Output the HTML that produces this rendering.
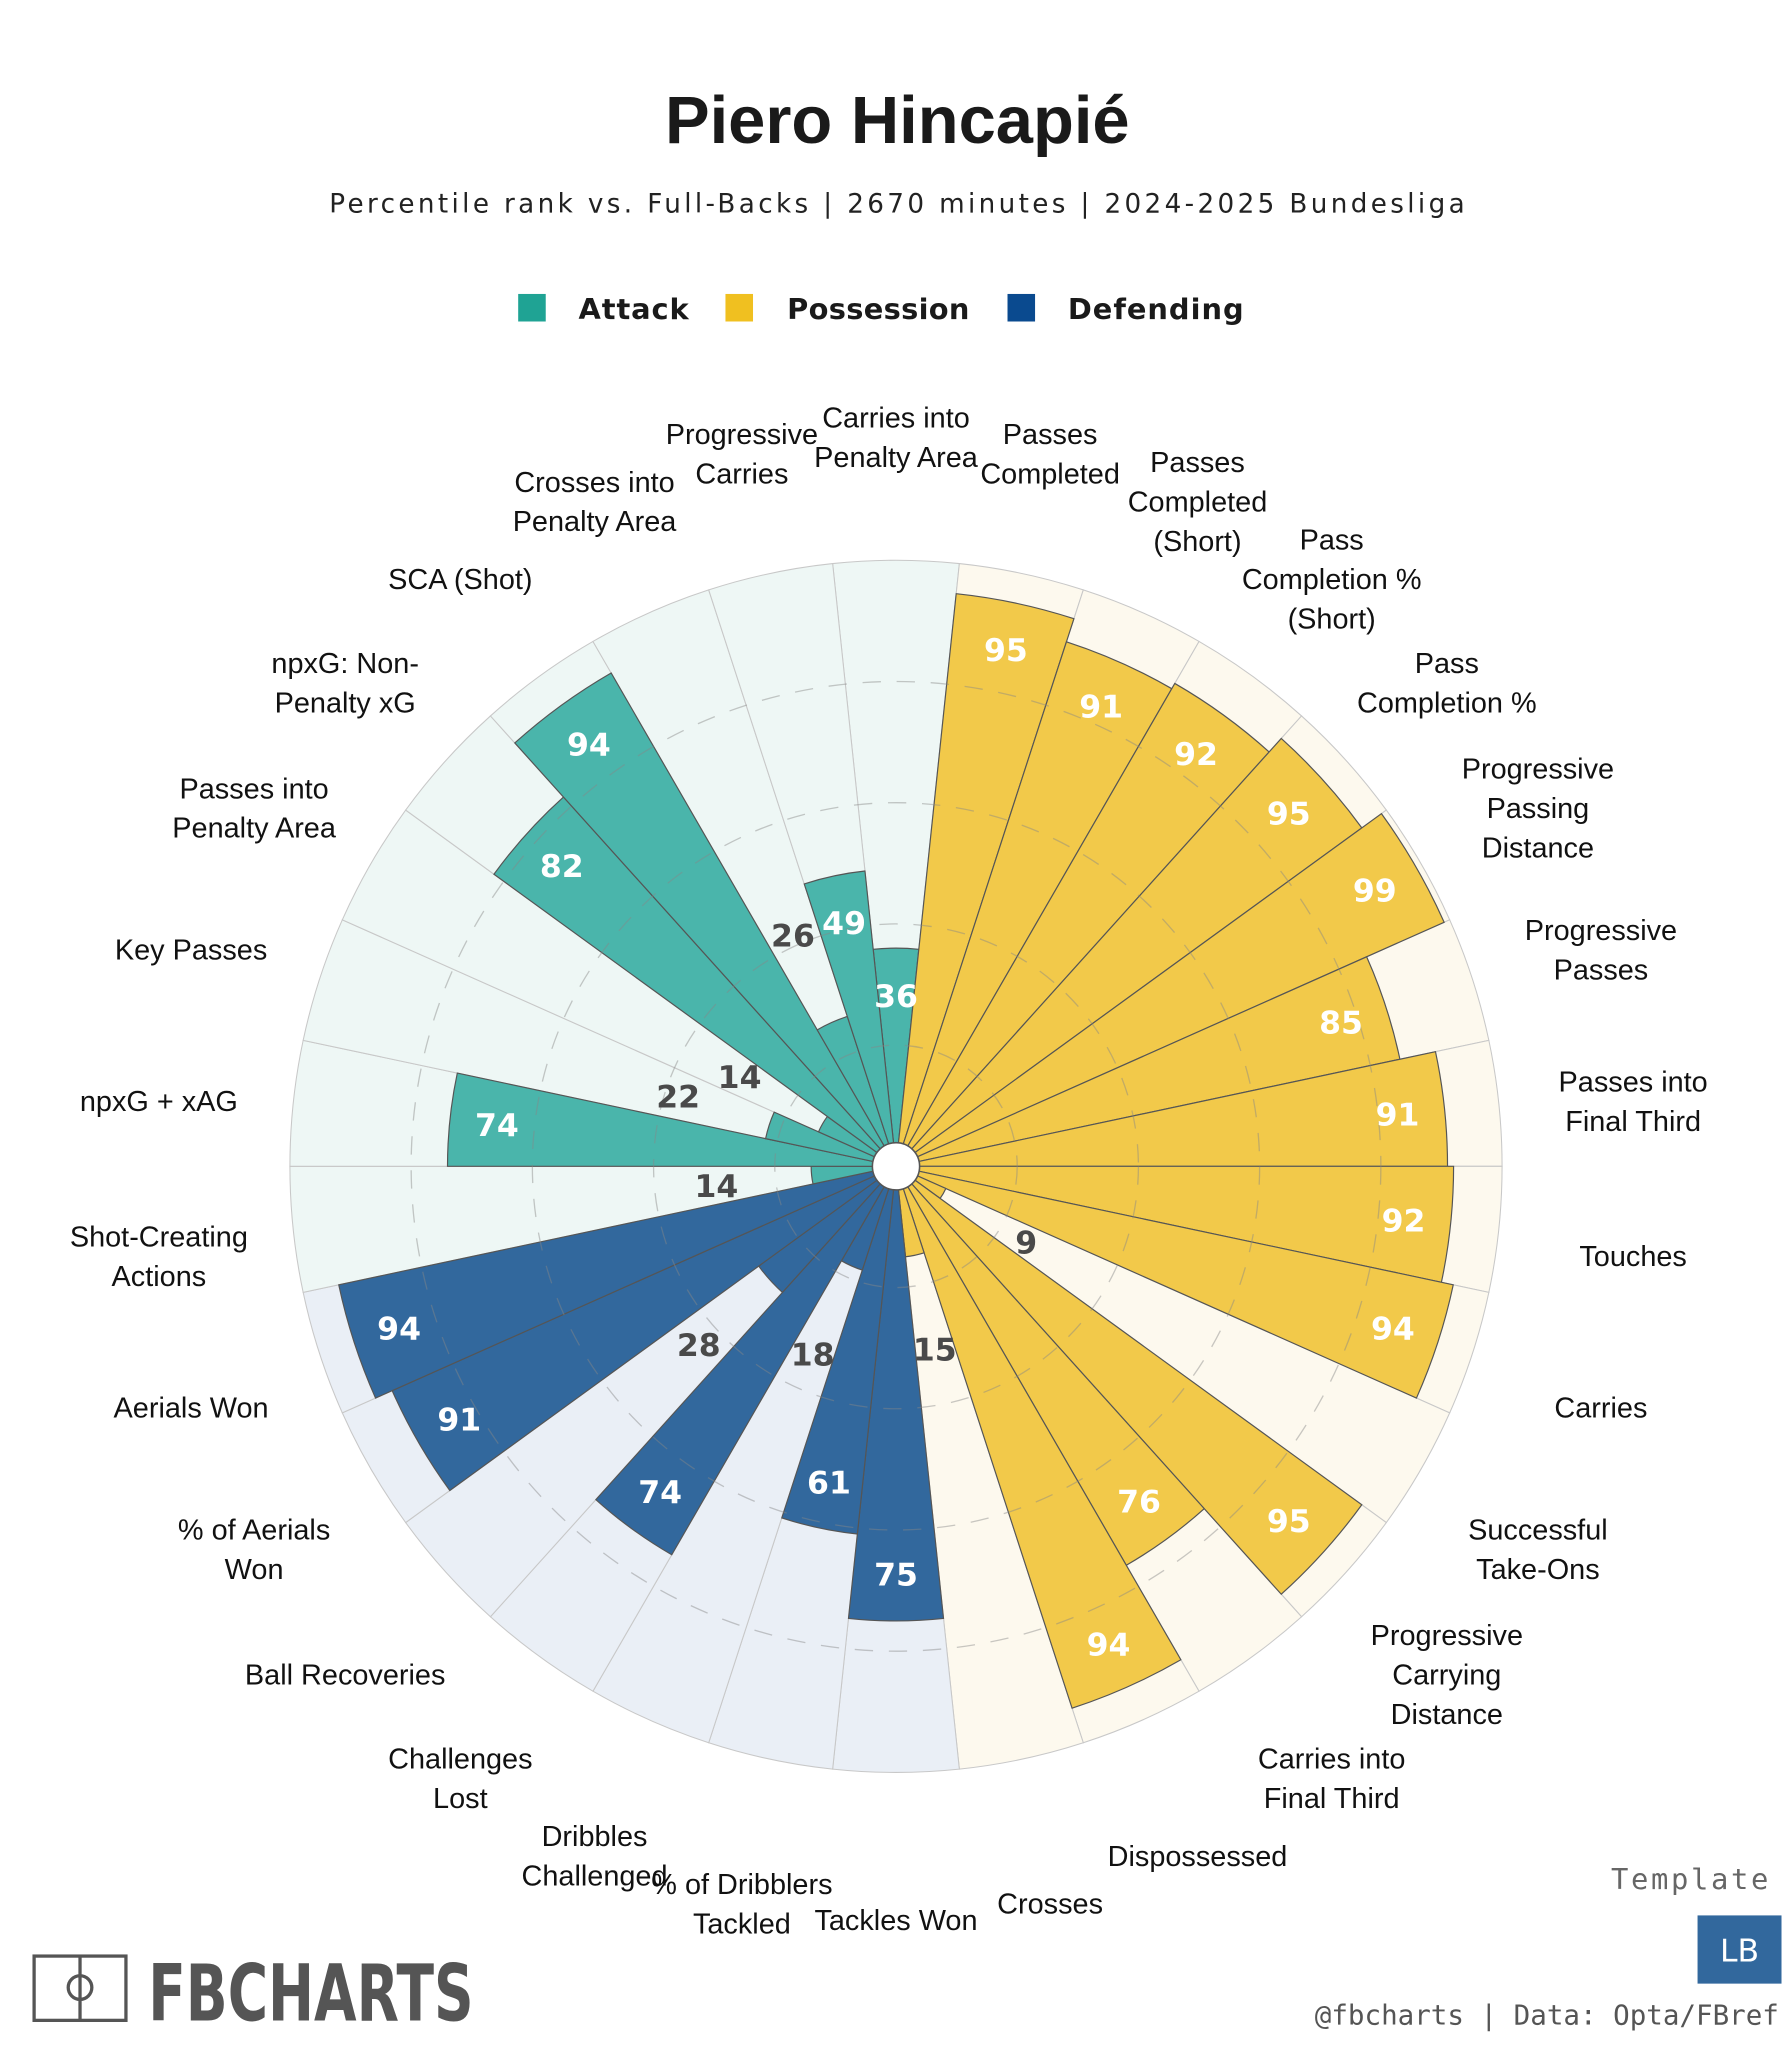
<!DOCTYPE html>
<html><head><meta charset="utf-8">
<style>
html,body{margin:0;padding:0;background:#fff;}
svg{display:block;}
</style></head>
<body>
<svg id="chart" xmlns="http://www.w3.org/2000/svg" width="1792" height="2048" viewBox="0 0 1366 1561">
<rect x="0" y="0" width="1366" height="1561" fill="#fff"/>
<text x="684" y="109" text-anchor="middle" font-family="Liberation Sans, sans-serif" font-weight="bold" font-size="51" fill="#1a1a1a">Piero Hincapié</text>
<text x="684" y="162" text-anchor="middle" font-family="DejaVu Sans, sans-serif" font-size="20" letter-spacing="0.5" fill="#222" textLength="866">Percentile rank vs. Full-Backs | 2670 minutes | 2024-2025 Bundesliga</text>
<g>
 <rect x="395" y="224" width="21" height="21" fill="#1fa394"/>
 <text x="441" y="243" font-family="DejaVu Sans, sans-serif" font-weight="bold" font-size="22" letter-spacing="1" fill="#1a1a1a" textLength="85">Attack</text>
 <rect x="553" y="224" width="21" height="21" fill="#f0c020"/>
 <text x="600" y="243" font-family="DejaVu Sans, sans-serif" font-weight="bold" font-size="22" letter-spacing="1" fill="#1a1a1a" textLength="140">Possession</text>
 <rect x="768" y="224" width="21" height="21" fill="#0a4a8f"/>
 <text x="814" y="243" font-family="DejaVu Sans, sans-serif" font-weight="bold" font-size="22" letter-spacing="1" fill="#1a1a1a" textLength="135">Defending</text>
</g>
<g id="radar"></g>
<g>
 <rect x="26" y="1491" width="70" height="49" fill="none" stroke="#555" stroke-width="2.5"/>
 <line x1="61" y1="1491" x2="61" y2="1540" stroke="#555" stroke-width="2.5"/>
 <circle cx="61" cy="1515" r="9" fill="none" stroke="#555" stroke-width="2.5"/>
 <text x="113" y="1540" font-family="DejaVu Sans, sans-serif" font-weight="bold" font-size="60" fill="#555" textLength="248" lengthAdjust="spacingAndGlyphs">FBCHARTS</text>
</g>
<text x="1350" y="1440" text-anchor="end" font-family="DejaVu Sans Mono, monospace" font-size="22" letter-spacing="2" fill="#666">Template</text>
<rect x="1294" y="1460" width="64" height="52" fill="#32689d"/>
<text x="1326" y="1495" text-anchor="middle" font-family="DejaVu Sans, sans-serif" font-size="24" fill="#fff">LB</text>
<text x="1356" y="1543" text-anchor="end" font-family="DejaVu Sans Mono, monospace" font-size="21" fill="#555">@fbcharts | Data: Opta/FBref</text>
</svg>
<script>
const categories = ["Carries into|Penalty Area","Passes|Completed","Passes|Completed|(Short)","Pass|Completion %|(Short)","Pass|Completion %","Progressive|Passing|Distance","Progressive|Passes","Passes into|Final Third","Touches","Carries","Successful|Take-Ons","Progressive|Carrying|Distance","Carries into|Final Third","Dispossessed","Crosses","Tackles Won","% of Dribblers|Tackled","Dribbles|Challenged","Challenges|Lost","Ball Recoveries","% of Aerials|Won","Aerials Won","Shot-Creating|Actions","npxG + xAG","Key Passes","Passes into|Penalty Area","npxG: Non-|Penalty xG","SCA (Shot)","Crosses into|Penalty Area","Progressive|Carries"];
const values = [36,95,91,92,95,99,85,91,92,94,9,95,76,94,15,75,61,18,74,28,91,94,14,74,22,14,82,94,26,49];
const groups = ["A","P","P","P","P","P","P","P","P","P","P","P","P","P","P","D","D","D","D","D","D","D","A","A","A","A","A","A","A","A"];
const gridLevels = [20,40,60,80];

const NS="http://www.w3.org/2000/svg";
const g=document.getElementById('radar');
const cx=683, cy=889, R=462, hole=18, labR=565;
const barCol={A:"#4ab5ab",P:"#f2c94a",D:"#32689d"};
const bgCol={A:"#eef7f5",P:"#fdf9ee",D:"#eaeff6"};
const n=categories.length, step=360/n;
function rScale(v){return v/100*R;}
function pt(r,deg){const a=deg*Math.PI/180;return [cx+r*Math.sin(a),cy-r*Math.cos(a)];}
function sector(r,a0,a1){const p0=pt(r,a0),p1=pt(r,a1);return `M${cx},${cy} L${p0[0]},${p0[1]} A${r},${r} 0 0 1 ${p1[0]},${p1[1]} Z`;}
function mk(tag,attrs){const e=document.createElementNS(NS,tag);for(const k in attrs)e.setAttribute(k,attrs[k]);g.appendChild(e);return e;}

categories.forEach((c,i)=>{
  const a0=i*step-step/2,a1=i*step+step/2;
  const bg=mk('path',{d:sector(R,a0,a1),fill:bgCol[groups[i]],stroke:"#c8c8c8","stroke-width":0.8});
  
  
});
categories.forEach((c,i)=>{
  const a0=i*step-step/2,a1=i*step+step/2;
  const bar=mk('path',{d:sector(rScale(values[i]),a0,a1),fill:barCol[groups[i]],stroke:"#555","stroke-width":0.9});
  
  
});
gridLevels.forEach(l=>{
  const gc=mk('circle',{cx:cx,cy:cy,r:rScale(l),fill:"none",stroke:"#888","stroke-opacity":0.45,"stroke-width":1,"stroke-dasharray":"14 12"});
  
  
});
const hc=mk('circle',{cx:cx,cy:cy,r:hole,fill:"#fff",stroke:"#555","stroke-width":1.2});



categories.forEach((c,i)=>{
  const v=values[i], ang=i*step;
  const inside=v>=30;
  const r=inside?rScale(v)-36:rScale(v)+73;
  const p=pt(r,ang);
  const t=mk('text',{x:p[0],y:p[1]+9,"text-anchor":"middle","font-family":"DejaVu Sans, sans-serif","font-weight":"bold","font-size":24,fill:inside?"#fff":"#4a4a4a"});
  t.textContent=v;
  
  
});
categories.forEach((c,i)=>{
  const lines=c.split('|'), ang=i*step;
  const p=pt(labR,ang);
  const lh=30, y0=p[1]-(lines.length-1)*lh/2+17;
  const t=mk('text',{"text-anchor":"middle","font-family":"Liberation Sans, sans-serif","font-size":22,fill:"#111"});
  
  
  lines.forEach((ln,k)=>{const s=document.createElementNS(NS,'tspan');s.setAttribute('x',p[0]);s.setAttribute('y',y0+k*lh);s.textContent=ln;t.appendChild(s);});
});
</script>
</body></html>
